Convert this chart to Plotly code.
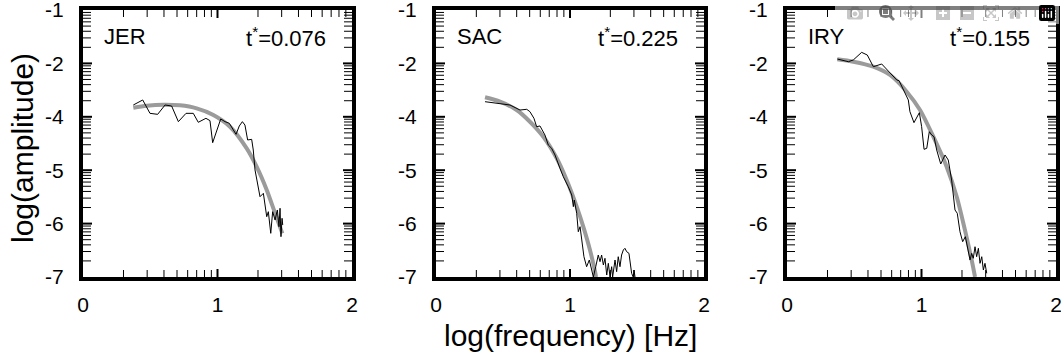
import math
import plotly.graph_objects as go

# ---------------- data (x: log frequency, y: log amplitude in axis position units) ----------------
stations = ["JER", "SAC", "IRY"]
tstar_labels = ["0.076", "0.225", "0.155"]

jer_obs_x = [0.374, 0.444, 0.498, 0.555, 0.610, 0.659, 0.709, 0.766, 0.820, 0.857, 0.914, 0.944, 0.964,
             0.994, 1.024, 1.056, 1.088, 1.118, 1.138, 1.162, 1.185, 1.204, 1.224, 1.254, 1.266, 1.279,
             1.291, 1.304, 1.316, 1.341, 1.353, 1.366, 1.378, 1.396, 1.410, 1.428, 1.445, 1.457, 1.465,
             1.472, 1.480, 1.485]
jer_obs_y = [-2.779, -2.685, -2.935, -2.954, -2.779, -2.798, -3.091, -2.935, -2.935, -3.103, -3.028, -3.072,
             -3.485, -3.247, -3.041, -3.091, -3.122, -3.247, -3.328, -3.172, -3.091, -3.154, -3.434, -3.422,
             -3.622, -3.996, -4.184, -4.371, -4.496, -4.433, -4.683, -4.871, -4.777, -5.182, -4.777, -4.933,
             -4.745, -5.058, -4.713, -5.245, -4.901, -5.026]
jer_fit_x = [0.374, 0.474, 0.597, 0.721, 0.845, 0.969, 1.093, 1.217, 1.291, 1.366, 1.428, 1.482]
jer_fit_y = [-2.830, -2.792, -2.773, -2.785, -2.841, -2.966, -3.185, -3.590, -3.934, -4.371, -4.807, -5.182]

sac_obs_x = [0.366, 0.478, 0.552, 0.627, 0.677, 0.701, 0.731, 0.751, 0.776, 0.813, 0.838, 0.863, 0.888,
             0.925, 0.950, 0.987, 1.013, 1.025, 1.032, 1.050, 1.062, 1.075, 1.087, 1.104, 1.124, 1.144,
             1.162, 1.174, 1.192, 1.211, 1.224, 1.236, 1.249, 1.261, 1.274, 1.286, 1.299, 1.311, 1.318,
             1.336, 1.348, 1.360, 1.373, 1.385, 1.398, 1.410, 1.423, 1.440, 1.460, 1.472, 1.478, 1.485]
sac_obs_y = [-2.717, -2.748, -2.779, -2.873, -2.860, -2.904, -3.028, -3.185, -3.172, -3.341, -3.528, -3.590,
             -3.715, -3.964, -4.122, -4.309, -4.464, -4.683, -4.558, -4.807, -5.152, -5.058, -5.307, -5.620,
             -5.807, -5.682, -5.869, -6.000, -5.807, -5.588, -5.713, -5.588, -5.775, -5.650, -5.963, -5.744,
             -6.000, -5.807, -6.000, -5.682, -5.901, -5.620, -5.807, -5.588, -5.494, -5.463, -5.526, -5.557,
             -5.931, -6.000, -5.869, -6.000]
sac_fit_x = [0.366, 0.478, 0.602, 0.701, 0.801, 0.901, 0.975, 1.050, 1.099, 1.149, 1.187, 1.194]
sac_fit_y = [-2.635, -2.717, -2.873, -3.092, -3.373, -3.777, -4.184, -4.683, -5.058, -5.494, -5.901, -6.0]

iry_obs_x = [0.374, 0.431, 0.456, 0.493, 0.555, 0.597, 0.642, 0.704, 0.766, 0.816, 0.833, 0.865, 0.902,
             0.914, 0.944, 0.984, 1.001, 1.019, 1.039, 1.058, 1.076, 1.093, 1.113, 1.143, 1.175, 1.199,
             1.224, 1.249, 1.266, 1.286, 1.306, 1.326, 1.341, 1.361, 1.373, 1.385, 1.398, 1.410, 1.423,
             1.435, 1.448, 1.460, 1.472, 1.485]
iry_obs_y = [-1.918, -1.949, -1.968, -1.936, -1.793, -1.843, -2.062, -2.011, -2.186, -2.311, -2.323, -2.498,
             -2.685, -2.904, -3.110, -2.923, -3.185, -3.609, -3.590, -3.279, -3.341, -3.373, -3.622, -3.884,
             -3.715, -3.809, -4.184, -4.745, -4.807, -5.152, -5.339, -5.245, -5.463, -5.682, -5.557, -5.650,
             -5.433, -5.620, -5.463, -5.744, -5.620, -5.869, -5.744, -5.931]
iry_fit_x = [0.374, 0.493, 0.642, 0.766, 0.890, 0.989, 1.088, 1.187, 1.262, 1.323, 1.373, 1.398]
iry_fit_y = [-1.923, -1.968, -2.062, -2.217, -2.530, -2.873, -3.373, -3.934, -4.496, -5.120, -5.682, -6.0]

x_tick_vals = [0, 1, 2]
x_tick_text = ["0", "1", "2"]
y_tick_vals = [-1, -2, -3, -4, -5, -6]
y_tick_text = ["-1", "-2", "-4", "-5", "-6", "-7"]

obs = [(jer_obs_x, jer_obs_y), (sac_obs_x, sac_obs_y), (iry_obs_x, iry_obs_y)]
fits = [(jer_fit_x, jer_fit_y), (sac_fit_x, sac_fit_y), (iry_fit_x, iry_fit_y)]

# ---------------- figure ----------------
W, H = 1061, 360
FONT = "Liberation Sans, Arial, Helvetica, sans-serif"
panel_px = [(83, 352), (436, 704), (787, 1056)]
top_px, bot_px = 10, 277
X_RANGE = [0, 2]
Y_RANGE = [-6, -1]

x_minor = [k + math.log10(m) for k in (0, 1) for m in range(2, 10)]
y_minor = [k + math.log10(m) for k in (-6, -5, -4, -3, -2) for m in range(2, 10)]
x_major_inner = [v for v in x_tick_vals if X_RANGE[0] < v < X_RANGE[1]]
y_major_inner = [v for v in y_tick_vals if Y_RANGE[0] < v < Y_RANGE[1]]

fig = go.Figure()
for i in range(3):
    sfx = "" if i == 0 else str(i + 1)
    fx, fy = fits[i]
    ox, oy = obs[i]
    fig.add_trace(go.Scatter(x=fx, y=fy, mode="lines", xaxis="x" + sfx, yaxis="y" + sfx,
                             line=dict(color="#9b9b9b", width=4, shape="spline", smoothing=0.8),
                             hoverinfo="skip", showlegend=False))
    fig.add_trace(go.Scatter(x=ox, y=oy, mode="lines", xaxis="x" + sfx, yaxis="y" + sfx,
                             line=dict(color="black", width=1),
                             hoverinfo="skip", showlegend=False))

layout = dict(width=W, height=H, margin=dict(l=0, r=0, t=0, b=0, autoexpand=False),
              paper_bgcolor="white", plot_bgcolor="white",
              font=dict(family=FONT, color="black"), showlegend=False)

ydom = [1 - bot_px / H, 1 - top_px / H]
annotations = []
shapes = []


def tick_shapes(sfx, l, r):
    """Inward tick marks on all four sides, positioned through the axes' own data scale."""
    out = []
    xl, xr = l / W, r / W
    yb, yt = ydom
    for vals, length, width in ((x_minor, 7, 1), (x_major_inner, 8, 2)):
        for v in vals:
            for y0, y1 in ((yb, yb + length / H), (yt, yt - length / H)):
                out.append(dict(type="line", xref="x" + sfx, yref="paper", x0=v, x1=v, y0=y0, y1=y1,
                                line=dict(color="black", width=width), layer="above"))
    for vals, length, width in ((y_minor, 8, 1), (y_major_inner, 9, 2)):
        for v in vals:
            for x0, x1 in ((xl, xl + length / W), (xr, xr - length / W)):
                out.append(dict(type="line", xref="paper", yref="y" + sfx, x0=x0, x1=x1, y0=v, y1=v,
                                line=dict(color="black", width=width), layer="above"))
    return out


for i, (l, r) in enumerate(panel_px):
    sfx = "" if i == 0 else str(i + 1)
    layout["xaxis" + sfx] = dict(
        domain=[l / W, r / W], range=X_RANGE, anchor="y" + sfx, automargin=False,
        tickmode="array", tickvals=x_tick_vals, ticktext=x_tick_text, ticks="",
        showline=True, linewidth=4, linecolor="black", mirror=True,
        showgrid=False, zeroline=False, ticklabeloverflow="allow", ticklabelstandoff=6,
        tickfont=dict(size=21, family=FONT, color="black"),
    )
    layout["yaxis" + sfx] = dict(
        domain=ydom, range=Y_RANGE, anchor="x" + sfx, automargin=False,
        tickmode="array", tickvals=y_tick_vals, ticktext=y_tick_text, ticks="",
        showline=True, linewidth=4, linecolor="black", mirror=True,
        showgrid=False, zeroline=False, ticklabeloverflow="allow", ticklabelstandoff=11,
        tickfont=dict(size=21, family=FONT, color="black"),
    )
    shapes.extend(tick_shapes(sfx, l, r))
    label_y = 1 - (top_px + 27) / H
    annotations.append(dict(text=stations[i], xref="paper", yref="paper",
                            x=(l + 19) / W, y=label_y, xanchor="left", yanchor="middle",
                            showarrow=False, font=dict(size=22, family=FONT, color="black")))
    annotations.append(dict(text="t<sup>*</sup>=" + tstar_labels[i], xref="paper", yref="paper",
                            x=(r - 24) / W, y=label_y, xanchor="right", yanchor="middle",
                            showarrow=False, font=dict(size=22, family=FONT, color="black")))

annotations.append(dict(text="log(amplitude)", xref="paper", yref="paper", x=22 / W, y=1 - 148 / H,
                        xanchor="center", yanchor="middle", textangle=-90, showarrow=False,
                        font=dict(size=30, family=FONT, color="black")))
annotations.append(dict(text="log(frequency) [Hz]", xref="paper", yref="paper", x=570 / W, y=1 - 335 / H,
                        xanchor="center", yanchor="middle", showarrow=False,
                        font=dict(size=30, family=FONT, color="black")))
layout["annotations"] = annotations
layout["shapes"] = shapes

fig.update_layout(**layout)
fig.write_html("out.html", post_script="document.body.style.margin='0';")
